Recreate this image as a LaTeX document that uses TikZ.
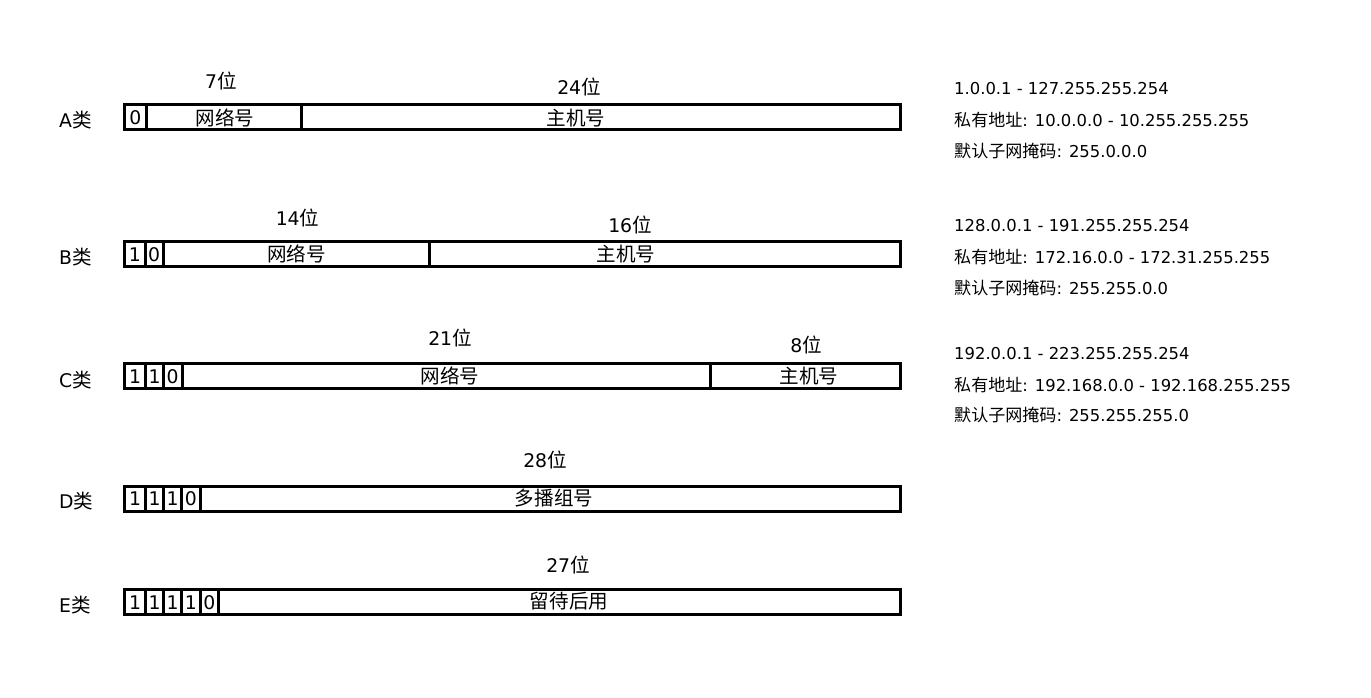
\documentclass[tikz,border=0pt]{standalone}
\usepackage{fontspec}
\setmainfont{DejaVu Sans}
\newfontfamily\cjk{Noto Sans CJK SC}[Scale=1.04]
\begin{document}
\begin{tikzpicture}[x=1pt,y=-1pt,
  lbl/.style={inner sep=0pt, text height=16.4pt, text depth=2.4pt, font=\fontsize{18.8}{22}\selectfont},
  rowlbl/.style={lbl, anchor=west},
  info/.style={anchor=west, inner sep=0pt, text height=14.3pt, text depth=2.1pt, font=\fontsize{16.4}{20}\selectfont},
  field/.style={draw=black, line width=3pt}]
\useasboundingbox[fill=white] (0,0) rectangle (1371,697);

% ---------- A ----------
\draw[field] (124.5,104.5) rectangle (900,129.5);
\draw[field] (146,104.5) -- (146,129.5);
\draw[field] (301,104.5) -- (301,129.5);
\node[rowlbl] (la) at (59,120) {A{\cjk 类}};
\node[lbl] (a0) at (135.3,117) {0};
\node[lbl] (anet) at (225,118) {{\cjk 网络号}};
\node[lbl] (ahost) at (576,118) {{\cjk 主机号}};
\node[lbl] (abits1) at (221,81) {7{\cjk 位}};
\node[lbl] (abits2) at (579,87.5) {24{\cjk 位}};

% ---------- B ----------
\draw[field] (124.5,241.7) rectangle (900,266.7);
\draw[field] (145,241.7) -- (145,266.7);
\draw[field] (163.3,241.7) -- (163.3,266.7);
\draw[field] (429,241.7) -- (429,266.7);
\node[rowlbl] (lb) at (59,257) {B{\cjk 类}};
\node[lbl] (b1) at (134.8,254.2) {1};
\node[lbl] (b2) at (154.2,254.2) {0};
\node[lbl] (bnet) at (296.7,254.5) {{\cjk 网络号}};
\node[lbl] (bhost) at (626,254.5) {{\cjk 主机号}};
\node[lbl] (bbits1) at (297.5,218) {14{\cjk 位}};
\node[lbl] (bbits2) at (630,225) {16{\cjk 位}};

% ---------- C ----------
\draw[field] (124.5,363.9) rectangle (900,388.9);
\draw[field] (145.5,363.9) -- (145.5,388.9);
\draw[field] (163.4,363.9) -- (163.4,388.9);
\draw[field] (182,363.9) -- (182,388.9);
\draw[field] (710,363.9) -- (710,388.9);
\node[rowlbl] (lc) at (59,380) {C{\cjk 类}};
\node[lbl] (c1) at (135,376.4) {1};
\node[lbl] (c2) at (154.5,376.4) {1};
\node[lbl] (c3) at (172.7,376.4) {0};
\node[lbl] (cnet) at (450,376.7) {{\cjk 网络号}};
\node[lbl] (chost) at (809,376.7) {{\cjk 主机号}};
\node[lbl] (cbits1) at (450,338) {21{\cjk 位}};
\node[lbl] (cbits2) at (806,345) {8{\cjk 位}};

% ---------- D ----------
\draw[field] (124.5,486.1) rectangle (900,511.1);
\draw[field] (145.5,486.1) -- (145.5,511.1);
\draw[field] (163.4,486.1) -- (163.4,511.1);
\draw[field] (181.7,486.1) -- (181.7,511.1);
\draw[field] (200,486.1) -- (200,511.1);
\node[rowlbl] (ld) at (59,501.5) {D{\cjk 类}};
\node[lbl] (d1) at (135,498.6) {1};
\node[lbl] (d2) at (154.5,498.6) {1};
\node[lbl] (d3) at (172.6,498.6) {1};
\node[lbl] (d4) at (190.9,498.6) {0};
\node[lbl] (dgrp) at (554,498.5) {{\cjk 多播组号}};
\node[lbl] (dbits) at (545,460) {28{\cjk 位}};

% ---------- E ----------
\draw[field] (124.5,589.8) rectangle (900,614.8);
\draw[field] (145.5,589.8) -- (145.5,614.8);
\draw[field] (163.4,589.8) -- (163.4,614.8);
\draw[field] (181.7,589.8) -- (181.7,614.8);
\draw[field] (200,589.8) -- (200,614.8);
\draw[field] (218.5,589.8) -- (218.5,614.8);
\node[rowlbl] (le) at (59,605) {E{\cjk 类}};
\node[lbl] (e1) at (135,602.3) {1};
\node[lbl] (e2) at (154.5,602.3) {1};
\node[lbl] (e3) at (172.6,602.3) {1};
\node[lbl] (e4) at (190.9,602.3) {1};
\node[lbl] (e5) at (209.3,602.3) {0};
\node[lbl] (eres) at (569,601.8) {{\cjk 留待后用}};
\node[lbl] (ebits) at (568,565) {27{\cjk 位}};

% ---------- info ----------
\node[info] (ia1) at (954,88.3) {1.0.0.1 - 127.255.255.254};
\node[info] (ia2) at (954,120) {{\cjk 私有地址}: 10.0.0.0 - 10.255.255.255};
\node[info] (ia3) at (954,151) {{\cjk 默认子网掩码}: 255.0.0.0};
\node[info] (ib1) at (954,225) {128.0.0.1 - 191.255.255.254};
\node[info] (ib2) at (954,257) {{\cjk 私有地址}: 172.16.0.0 - 172.31.255.255};
\node[info] (ib3) at (954,288.7) {{\cjk 默认子网掩码}: 255.255.0.0};
\node[info] (ic1) at (954,353) {192.0.0.1 - 223.255.255.254};
\node[info] (ic2) at (954,385.7) {{\cjk 私有地址}: 192.168.0.0 - 192.168.255.255};
\node[info] (ic3) at (954,415.7) {{\cjk 默认子网掩码}: 255.255.255.0};
\end{tikzpicture}
\end{document}
